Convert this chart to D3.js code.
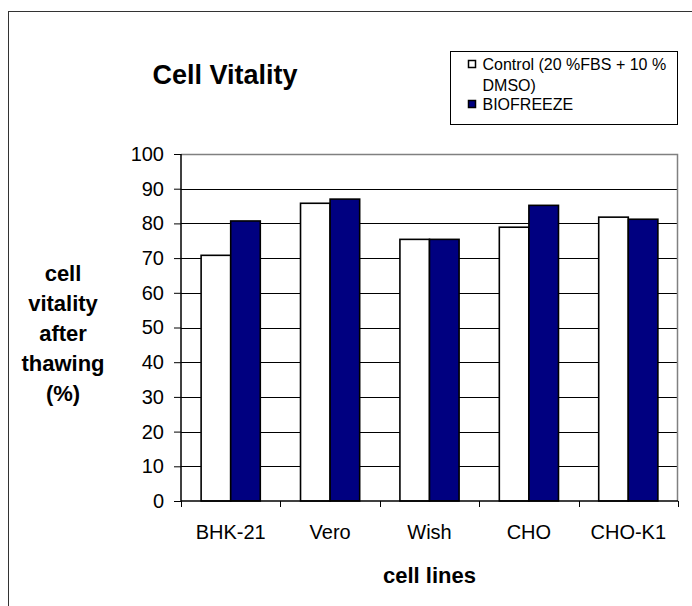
<!DOCTYPE html>
<html>
<head>
<meta charset="utf-8">
<script src="https://cdn.jsdelivr.net/npm/d3@7"></script>
<style>
  body { margin: 0; background: #fff; }
  text { font-family: "Liberation Sans", Arial, sans-serif; fill: #000; }
</style>
</head>
<body>
<div id="chart"></div>
<script>
// chart data
var categories = ["BHK-21", "Vero", "Wish", "CHO", "CHO-K1"];
var seriesNames = ["Control (20 %FBS + 10 % DMSO)", "BIOFREEZE"];
var controlValues = [70.8, 85.8, 75.4, 78.9, 81.8];
var biofreezeValues = [80.7, 87.0, 75.4, 85.2, 81.2];
var yTickValues = [0, 10, 20, 30, 40, 50, 60, 70, 80, 90, 100];
var yLabelLines = ["cell", "vitality", "after", "thawing", "(%)"];
var legendLines = [["Control (20 %FBS + 10 %", "DMSO)"], ["BIOFREEZE"]];

var svgWidth = 692;
var svgHeight = 606;

var margin = { top: 154, left: 181, right: 14, bottom: 105 };
var width = svgWidth - margin.left - margin.right;
var height = svgHeight - margin.top - margin.bottom;

var colors = ["#ffffff", "#000080"];

var svg = d3.select("#chart")
  .append("svg")
  .attr("width", svgWidth)
  .attr("height", svgHeight);

// outer chart border (right & bottom fall outside the picture)
svg.append("rect")
  .attr("x", 8.5)
  .attr("y", 11.5)
  .attr("width", svgWidth + 10)
  .attr("height", svgHeight + 10)
  .attr("fill", "none")
  .attr("stroke", "#333")
  .attr("stroke-width", 1);

var chartGroup = svg.append("g")
  .attr("transform", `translate(${margin.left}, ${margin.top})`);

// scales
var x0 = d3.scaleBand()
  .domain(categories)
  .range([0, width])
  .paddingInner(0)
  .paddingOuter(0);

var x1 = d3.scaleBand()
  .domain(seriesNames)
  .range([0, x0.bandwidth()])
  .paddingInner(0)
  .paddingOuter(0.68);

var y = d3.scaleLinear()
  .domain([0, 100])
  .range([height, 0]);

// gridlines
chartGroup.append("g")
  .selectAll("line")
  .data(yTickValues.filter(d => d > 0 && d < 100))
  .enter()
  .append("line")
  .attr("x1", 0)
  .attr("x2", width)
  .attr("y1", d => Math.round(y(d)) + 0.5)
  .attr("y2", d => Math.round(y(d)) + 0.5)
  .attr("stroke", "#000")
  .attr("stroke-width", 1);

// plot area border (top & right in grey)
chartGroup.append("path")
  .attr("d", `M0,0.5H${width - 0.5}V${height}`)
  .attr("fill", "none")
  .attr("stroke", "#808080")
  .attr("stroke-width", 1.5);

// bars
var barData = [];
categories.forEach(function (c, i) {
  barData.push({ cat: c, series: seriesNames[0], value: controlValues[i], k: 0 });
  barData.push({ cat: c, series: seriesNames[1], value: biofreezeValues[i], k: 1 });
});

chartGroup.append("g")
  .selectAll("rect")
  .data(barData)
  .enter()
  .append("rect")
  .attr("x", d => x0(d.cat) + x1(d.series))
  .attr("y", d => y(d.value))
  .attr("width", x1.bandwidth())
  .attr("height", d => height - y(d.value))
  .attr("fill", d => colors[d.k])
  .attr("stroke", "#000")
  .attr("stroke-width", 1.6);

// axes
var leftAxis = d3.axisLeft(y)
  .tickValues(yTickValues)
  .tickSize(7)
  .tickPadding(10);

var yAxisG = chartGroup.append("g").call(leftAxis);
yAxisG.select(".domain").attr("stroke", "#000").attr("stroke-width", 1.5).attr("d", `M0,0V${height}`);
yAxisG.selectAll(".tick line").attr("stroke", "#000");
yAxisG.selectAll(".tick text")
  .style("font-family", "'Liberation Sans', Arial, sans-serif")
  .style("font-size", "20px")
  .attr("fill", "#000");

var bottomAxis = d3.axisBottom(x0).tickSize(0).tickPadding(24);
var xAxisG = chartGroup.append("g")
  .attr("transform", `translate(0, ${height})`)
  .call(bottomAxis);
xAxisG.select(".domain").attr("stroke", "#000").attr("stroke-width", 1.5).attr("d", `M0,0H${width}`);
xAxisG.selectAll(".tick text")
  .style("font-family", "'Liberation Sans', Arial, sans-serif")
  .style("font-size", "20px")
  .attr("fill", "#000");

// category boundary ticks
xAxisG.append("g")
  .selectAll("line")
  .data(categories.concat(["end"]))
  .enter()
  .append("line")
  .attr("x1", (d, i) => Math.round(i * x0.step()) + 0.5)
  .attr("x2", (d, i) => Math.round(i * x0.step()) + 0.5)
  .attr("y1", 0)
  .attr("y2", 6)
  .attr("stroke", "#000");

// title
svg.append("text")
  .attr("x", 225)
  .attr("y", 84)
  .attr("text-anchor", "middle")
  .style("font-size", "27px")
  .style("font-weight", "bold")
  .text("Cell Vitality");

// x axis label
svg.append("text")
  .attr("x", margin.left + width / 2)
  .attr("y", 583)
  .attr("text-anchor", "middle")
  .style("font-size", "22px")
  .style("font-weight", "bold")
  .text("cell lines");

// y axis label
svg.append("g")
  .selectAll("text")
  .data(yLabelLines)
  .enter()
  .append("text")
  .attr("x", 63)
  .attr("y", (d, i) => 281 + i * 30)
  .attr("text-anchor", "middle")
  .style("font-size", "22px")
  .style("font-weight", "bold")
  .text(d => d);

// legend
var legend = svg.append("g").attr("transform", "translate(450, 51)");
legend.append("rect")
  .attr("x", 0.5)
  .attr("y", 0.5)
  .attr("width", 227)
  .attr("height", 73)
  .attr("fill", "#fff")
  .attr("stroke", "#000");

var rowY = [18.5, 58.5];
seriesNames.forEach(function (s, i) {
  legend.append("rect")
    .attr("x", 18.5)
    .attr("y", rowY[i] - 9)
    .attr("width", 7)
    .attr("height", 7)
    .attr("fill", colors[i])
    .attr("stroke", "#000")
    .attr("stroke-width", 1.5);
  legendLines[i].forEach(function (line, j) {
    legend.append("text")
      .attr("x", 32.5)
      .attr("y", rowY[i] + j * 21)
      .style("font-size", "16px")
      .text(line);
  });
});
</script>
</body>
</html>
